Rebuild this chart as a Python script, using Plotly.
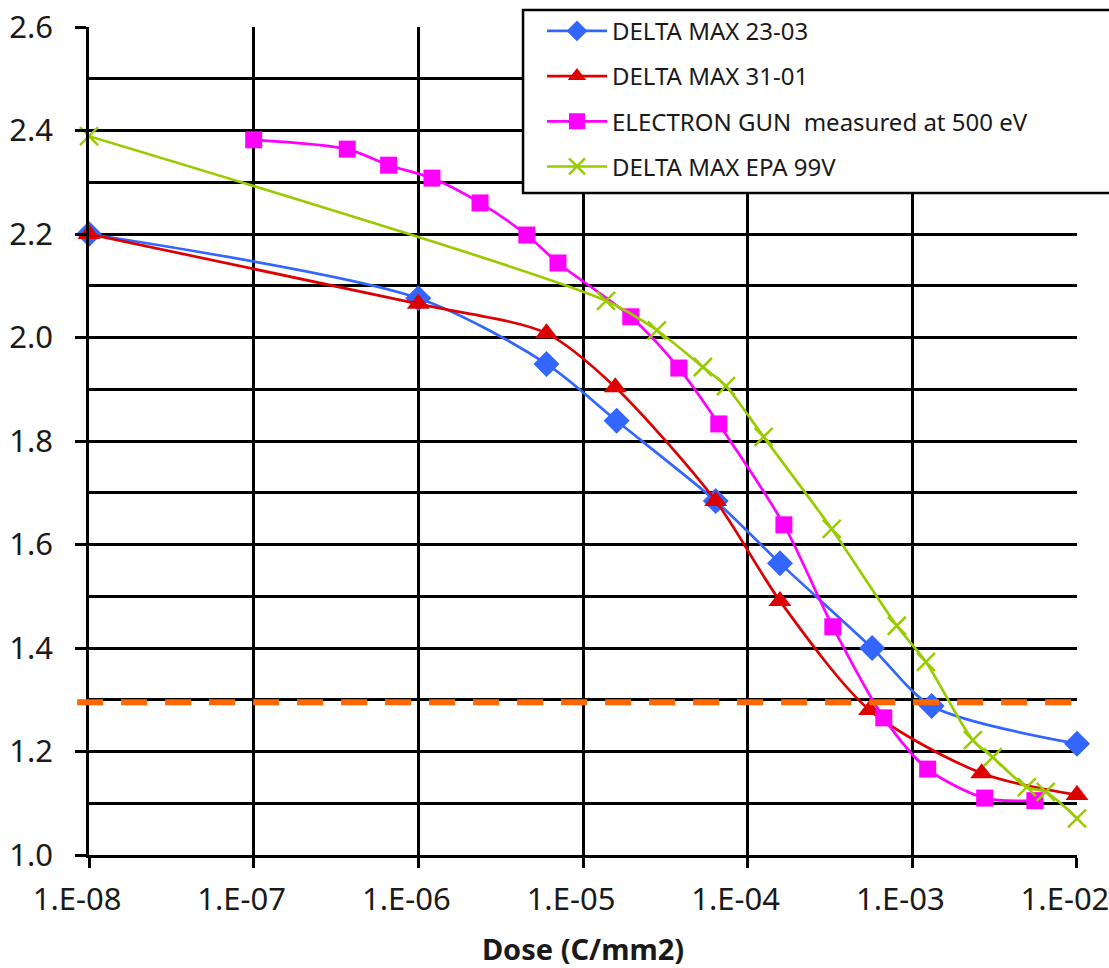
import plotly.graph_objects as go

# ---- data ----
blue_x = [1e-8, 1e-6, 6.0e-6, 1.6e-5, 6.4e-5, 1.57e-4, 5.7e-4, 1.31e-3, 1e-2]
blue_y = [2.20, 2.076, 1.949, 1.839, 1.684, 1.564, 1.400, 1.288, 1.215]

red_x = [1e-8, 1e-6, 6.0e-6, 1.57e-5, 6.4e-5, 1.57e-4, 5.5e-4, 2.64e-3, 1e-2]
red_y = [2.20, 2.065, 2.008, 1.904, 1.684, 1.491, 1.280, 1.158, 1.116]

mag_x = [1e-7, 3.7e-7, 6.6e-7, 1.21e-6, 2.37e-6, 4.56e-6, 7.05e-6, 1.95e-5,
         3.82e-5, 6.68e-5, 1.66e-4, 3.29e-4, 6.71e-4, 1.24e-3, 2.75e-3, 5.55e-3]
mag_y = [2.382, 2.364, 2.333, 2.308, 2.260, 2.198, 2.144, 2.040,
         1.941, 1.833, 1.638, 1.441, 1.265, 1.166, 1.110, 1.105]

grn_x = [1e-8, 1.38e-5, 2.81e-5, 5.35e-5, 7.38e-5, 1.25e-4, 3.24e-4, 8.05e-4,
         1.21e-3, 2.33e-3, 3.08e-3, 4.96e-3, 6.46e-3, 1e-2]
grn_y = [2.389, 2.071, 2.014, 1.943, 1.906, 1.808, 1.630, 1.443,
         1.373, 1.222, 1.189, 1.131, 1.122, 1.071]

threshold = 1.295

names = ["DELTA MAX 23-03", "DELTA MAX 31-01",
         "ELECTRON GUN  measured at 500 eV", "DELTA MAX EPA 99V"]

x_tickvals = [1e-8, 1e-7, 1e-6, 1e-5, 1e-4, 1e-3, 1e-2]
x_ticktext = ["1.E-08", "1.E-07", "1.E-06", "1.E-05", "1.E-04", "1.E-03", "1.E-02"]
y_tickvals = [1.0, 1.2, 1.4, 1.6, 1.8, 2.0, 2.2, 2.4, 2.6]
y_ticktext = ["1.0", "1.2", "1.4", "1.6", "1.8", "2.0", "2.2", "2.4", "2.6"]
y_minor = [1.1, 1.3, 1.5, 1.7, 1.9, 2.1, 2.3, 2.5]

FONT = "Noto Sans"
TXT = "#1a1a1a"

fig = go.Figure()

series = [
    (blue_x, blue_y, names[0], "#3366FF", "diamond", 20),
    (red_x, red_y, names[1], "#DD0000", "triangle-up", 20),
    (mag_x, mag_y, names[2], "#FF00FF", "square", 17),
    (grn_x, grn_y, names[3], "#99CC00", "x-thin", 18),
]
for i, (xs, ys, nm, col, sym, sz) in enumerate(series):
    marker = dict(symbol=sym, size=sz, color=col)
    if sym == "x-thin":
        marker["line"] = dict(color=col, width=2.5)
    fig.add_trace(go.Scatter(
        x=xs, y=ys, name=nm, mode="lines+markers",
        line=dict(color=col, width=2.7, shape="spline", smoothing=0.8),
        marker=marker, legendgroup=f"g{i}", cliponaxis=False,
    ))

# threshold dashed line
fig.add_shape(type="line", xref="paper", yref="y",
              x0=-0.012, x1=1.008, y0=threshold, y1=threshold,
              line=dict(color="#FF6600", width=6, dash="26px,18px"))
# legend frame (extends past the right edge like the original)
fig.add_shape(type="rect", xref="paper", yref="paper", layer="above",
              x0=0.4393, x1=1.04, y0=0.7995, y1=1.0205,
              fillcolor="white", line=dict(color="black", width=2.5))

fig.update_layout(
    width=1109, height=968,
    margin=dict(l=89, r=32, t=27, b=113, autoexpand=False),
    paper_bgcolor="white", plot_bgcolor="white",
    font=dict(family=FONT, color=TXT, size=24),
    showlegend=True,
    legend=dict(
        x=0.4585, y=1.022, xanchor="left", yanchor="top",
        bgcolor="rgba(0,0,0,0)", borderwidth=0,
        font=dict(family=FONT, size=24, color=TXT),
        tracegroupgap=11, itemwidth=60,
    ),
)

fig.update_xaxes(
    type="log", range=[-8.0001, -1.9999],
    tickvals=x_tickvals, ticktext=x_ticktext,
    showgrid=True, gridcolor="black", gridwidth=2.5,
    showline=True, linecolor="black", linewidth=2.5,
    ticks="outside", ticklen=10, tickwidth=2.5, tickcolor="black",
    tickfont=dict(family=FONT, size=31, color=TXT),
    ticklabelshift=-12, ticklabelstandoff=5, ticklabeloverflow="allow",
    zeroline=False, automargin=False,
    title=dict(text="<b>Dose (C/mm2)</b>", font=dict(family=FONT, size=29, color=TXT),
               standoff=30),
)
fig.update_yaxes(
    range=[1.0, 2.6],
    tickvals=y_tickvals, ticktext=y_ticktext,
    showgrid=True, gridcolor="black", gridwidth=2.5,
    showline=True, linecolor="black", linewidth=2.5,
    ticks="outside", ticklen=11, tickwidth=2.5, tickcolor="black",
    tickfont=dict(family=FONT, size=31, color=TXT),
    ticklabelstandoff=16, ticklabeloverflow="allow",
    zeroline=False, automargin=False,
    minor=dict(tickvals=y_minor, showgrid=True, gridcolor="black",
               gridwidth=2.5, ticks=""),
)

fig.write_html("out.html")
